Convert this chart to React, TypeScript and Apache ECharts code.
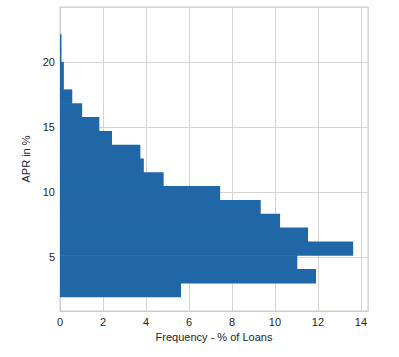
import React, { useEffect, useRef } from "react";
import * as echarts from "echarts";

// Histogram bin edges (APR in %) and frequency (% of loans)
const binLower = [1.92, 2.98, 4.05, 5.11, 6.17, 7.24, 8.30, 9.37, 10.43, 11.49, 12.56, 13.62, 14.68, 15.75, 16.81, 17.88, 18.94, 20.0, 21.07, 22.13];
const binUpper = [2.98, 4.05, 5.11, 6.17, 7.24, 8.30, 9.37, 10.43, 11.49, 12.56, 13.62, 14.68, 15.75, 16.81, 17.88, 18.94, 20.0, 21.07, 22.13, 23.2];
const frequency = [5.63, 11.91, 11.04, 13.64, 11.54, 10.24, 9.34, 7.45, 4.82, 3.90, 3.74, 2.42, 1.83, 1.03, 0.57, 0.18, 0.18, 0.07, 0.07, 0.0];

const xAxisTitle = "Frequency - % of Loans";
const yAxisTitle = "APR in %";

export default function App() {
  const ref = useRef<HTMLDivElement>(null);
  useEffect(() => {
    if (!ref.current) return;
    const chart = echarts.init(ref.current, null, { renderer: "svg" });
    const data = binLower.map((lo, i) => [lo, binUpper[i], frequency[i]]);
    const textColor = "#262626";
    const font = "'Liberation Sans', Arial, sans-serif";
    chart.setOption({
      animation: false,
      backgroundColor: "#ffffff",
      grid: {
        left: 60,
        right: 31,
        top: 7,
        bottom: 46,
        show: true,
        borderColor: "#cccccc",
        borderWidth: 1,
        containLabel: false,
      },
      xAxis: {
        type: "value",
        min: 0,
        max: 14.33,
        interval: 2,
        name: xAxisTitle,
        nameLocation: "middle",
        nameGap: 19,
        nameTextStyle: { color: textColor, fontSize: 11, fontFamily: font },
        axisLine: { show: true, lineStyle: { color: "#cccccc", width: 1 } },
        axisTick: { show: false },
        axisLabel: { color: textColor, fontSize: 11, fontFamily: font, margin: 5, showMaxLabel: false },
        splitLine: { show: true, lineStyle: { color: "#d4d4d4", width: 1 } },
      },
      yAxis: {
        type: "value",
        min: 0.86,
        max: 24.27,
        name: yAxisTitle,
        nameLocation: "middle",
        nameRotate: 90,
        nameGap: 21,
        nameTextStyle: { color: textColor, fontSize: 11, fontFamily: font },
        axisLine: { show: true, lineStyle: { color: "#cccccc", width: 1 } },
        axisTick: { show: false },
        axisLabel: { color: textColor, fontSize: 11, fontFamily: font, margin: 5, showMinLabel: false, showMaxLabel: false },
        splitLine: { show: true, lineStyle: { color: "#d4d4d4", width: 1 } },
      },
      series: [
        {
          type: "custom",
          data,
          encode: { x: 2, y: [0, 1] },
          renderItem: (params: any, api: any) => {
            const lo = api.value(0);
            const hi = api.value(1);
            const v = api.value(2);
            const p0 = api.coord([0, lo]);
            const p1 = api.coord([v, hi]);
            const w = p1[0] - p0[0];
            if (w <= 0) return null;
            return {
              type: "rect",
              shape: {
                x: p0[0],
                y: p1[1] - 0.6,
                width: w,
                height: p0[1] - p1[1] + 0.6,
              },
              style: { fill: "#1f67a7" },
            };
          },
        },
      ],
    });
    return () => chart.dispose();
  }, []);
  return <div ref={ref} style={{ width: 399, height: 357, position: "absolute", left: 0, top: 0 }} />;
}
